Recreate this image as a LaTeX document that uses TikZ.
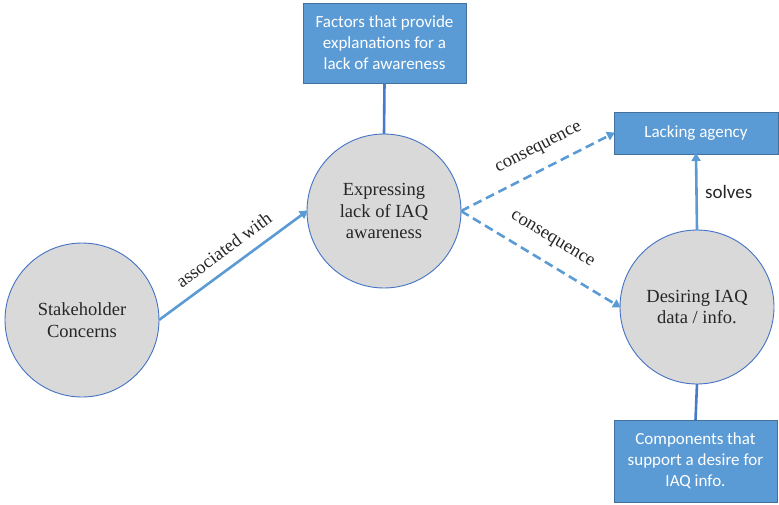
\documentclass[tikz,border=0pt]{standalone}
\usepackage{fontspec}
\setmainfont{Liberation Serif}
\newfontfamily\boxfont{Carlito}
\usetikzlibrary{arrows.meta}
\definecolor{boxblue}{HTML}{5B9BD5}
\definecolor{boxedge}{HTML}{41719C}
\definecolor{ringblue}{HTML}{4472C4}
\definecolor{circlegray}{HTML}{D9D9D9}
\definecolor{labelink}{HTML}{262626}
\tikzset{
  concept/.style={circle, draw=ringblue, line width=0.9pt, fill=circlegray,
    minimum size=154pt, inner sep=0pt, outer sep=0pt, align=center,
    font=\fontsize{18.5}{21.5}\selectfont, text=labelink},
  infobox/.style={rectangle, draw=boxedge, line width=0.9pt, fill=boxblue,
    inner sep=0pt, outer sep=0pt, align=center,
    font=\boxfont\fontsize{17}{21}\selectfont, text=white},
  link/.style={draw=boxblue, line width=2.6pt},
  linkarrow/.style={link, -{Triangle[length=8pt,width=9pt]}, shorten >=-1pt},
  dasharrow/.style={linkarrow, dash pattern=on 9pt off 5pt},
  stem/.style={draw=ringblue!80!boxblue, line width=2.6pt},
  edgelabel/.style={font=\fontsize{18.5}{20}\selectfont, text=labelink, sloped}
}
\begin{document}
\begin{tikzpicture}[x=1pt, y=-1pt]
  \useasboundingbox (0,0) rectangle (779,504);

  % concept circles
  \node[concept] (stake) at (82,320) {Stakeholder\\Concerns};
  \node[concept] (expr)  at (384,211) {Expressing\\lack of IAQ\\awareness};
  \node[concept] (desire) at (697,307) {Desiring IAQ\\data / info.};

  % explanatory boxes
  \node[infobox, minimum width=163pt, minimum height=80pt] (factors) at (384.5,43)
    {Factors that provide\\explanations for a\\lack of awareness};
  \node[infobox, minimum width=164pt, minimum height=42pt] (agency) at (696,133)
    {Lacking agency};
  \node[infobox, minimum width=163pt, minimum height=82pt] (comps) at (695.5,461)
    {Components that\\support a desire for\\IAQ info.};

  % stems joining boxes to circles
  \draw[stem] (factors.south) -- (expr.north);
  \draw[stem] (desire.south) -- (comps.north);

  % relations
  \draw[linkarrow] (stake.east) -- node[edgelabel, above=7pt, pos=0.51] {associated with} (expr.west);
  \draw[dasharrow] (expr.east) -- node[edgelabel, above=9pt, pos=0.57] {consequence} (agency.west);
  \draw[dasharrow] (expr.east) -- node[edgelabel, above=11pt, pos=0.5] {consequence} (desire.west);
  \draw[linkarrow] (desire.north) -- node[right=4pt, font=\boxfont\fontsize{19}{20}\selectfont, text=labelink] {solves} (agency.south);
\end{tikzpicture}
\end{document}
